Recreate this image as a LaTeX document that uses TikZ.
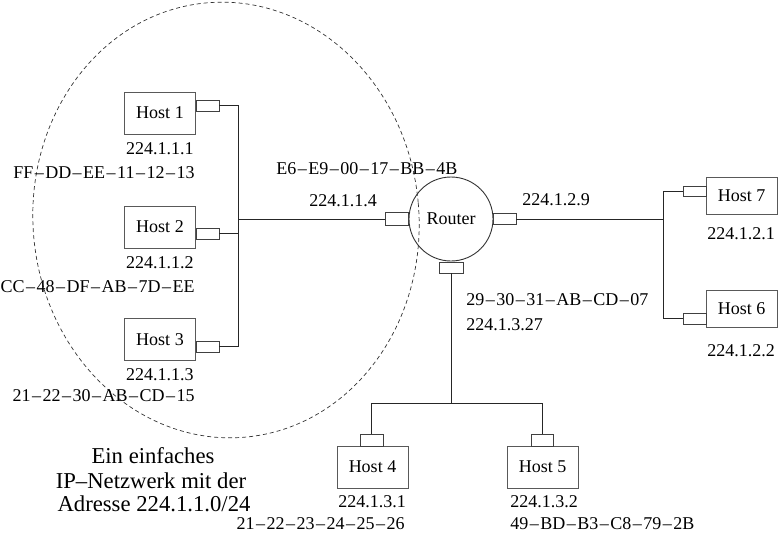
\documentclass[tikz,border=0pt]{standalone}
\usepackage{fontspec}
\setmainfont{Liberation Serif}
\usetikzlibrary{calc}
\newcommand\md{\kern0.083em–\kern0.083em}
\begin{document}
\begin{tikzpicture}[x=1pt,y=-1pt, font=\fontsize{18}{20}\selectfont, line width=0.9pt,
  host/.style={draw=black!65, rectangle, minimum width=71pt, minimum height=42pt, inner sep=0pt},
  iface/.style={draw=black!75, rectangle, minimum width=23pt, minimum height=11pt, inner sep=0pt},
  wire/.style={draw=black!85},
  lbl/.style={inner sep=0pt},
  captext/.style={inner sep=0pt, anchor=base, font=\fontsize{22.7}{24}\selectfont}]
\useasboundingbox (0,0) rectangle (781,533);

% subnet boundary
\coordinate (ec) at (226,220);
\draw[black!80, line width=0.7pt, dash pattern=on 4pt off 3pt, rotate around={5:(ec)}] (ec) ellipse [x radius=193, y radius=218];

% hosts
\node[host] (h1) at (160,113) {Host 1};
\node[host] (h2) at (160,227) {Host 2};
\node[host] (h3) at (160,339.5) {Host 3};
\node[host, minimum height=37pt] (h7) at (741.5,195.5) {Host 7};
\node[host, minimum height=37pt] (h6) at (741.5,308.5) {Host 6};
\node[host] (h4) at (372.5,467) {Host 4};
\node[host] (h5) at (542.5,467) {Host 5};

% interfaces
\node[iface] (h1i) at (207.5,105.5) {};
\node[iface] (h2i) at (207.5,233.5) {};
\node[iface] (h3i) at (207.5,346.5) {};
\node[iface, minimum height=10pt] (h7i) at (694.5,191.5) {};
\node[iface] (h6i) at (694.5,318.5) {};
\node[iface, minimum height=12pt] (h4i) at (371.5,440) {};
\node[iface, minimum width=22pt, minimum height=12pt] (h5i) at (542,440) {};

% router
\node[circle, draw=black!80, minimum size=84pt, inner sep=0pt] (r) at (451,219) {Router};
\node[iface, minimum height=13pt] (rl) at (396.5,219) {};
\node[iface] (rr) at (504.5,219) {};
\node[iface, minimum width=24pt] (rb) at (451,267.5) {};

% wires
\coordinate (b1) at (238,105.5);
\coordinate (b1e) at (238,346.5);
\draw[wire] (h1i.east) -- (b1) -- (b1e) -- (h3i.east);
\draw[wire] (h2i.east) -- (h2i.east -| b1);
\draw[wire] (rl.west) -- (rl.west -| b1);
\coordinate (b2) at (663,219);
\draw[wire] (rr.east) -- (b2);
\draw[wire] (h7i.west) -- (h7i.west -| b2) -- (h6i.west -| b2) -- (h6i.west);
\coordinate (b3) at (451,403);
\draw[wire] (rb.south) -- (b3);
\draw[wire] (h4i.north) -- (h4i.north |- b3) -- (h5i.north |- b3) -- (h5i.north);

% labels
\node[lbl, anchor=base east] (l1a) at (194,154) {224.1.1.1};
\node[lbl, anchor=base east] (l1b) at (195,178) {FF\md DD\md EE\md 11\md 12\md 13};
\node[lbl, anchor=base east] (l2a) at (194,268) {224.1.1.2};
\node[lbl, anchor=base east] (l2b) at (195,292) {CC\md 48\md DF\md AB\md 7D\md EE};
\node[lbl, anchor=base east] (l3a) at (194,380) {224.1.1.3};
\node[lbl, anchor=base east] (l3b) at (195,401) {21\md 22\md 30\md AB\md CD\md 15};
\node[lbl, anchor=base west] (rma) at (276,174) {E6\md E9\md 00\md 17\md BB\md 4B};
\node[lbl, anchor=base west] (ripa) at (309,206) {224.1.1.4};
\node[lbl, anchor=base west] (ripb) at (522,205) {224.1.2.9};
\node[lbl, anchor=base west] (rmc) at (466,305) {29\md 30\md 31\md AB\md CD\md 07};
\node[lbl, anchor=base west] (ripc) at (466,330) {224.1.3.27};
\node[lbl, anchor=base west] (l7) at (707,239) {224.1.2.1};
\node[lbl, anchor=base west] (l6) at (707,356) {224.1.2.2};
\node[lbl, anchor=base west] (l4a) at (338,507) {224.1.3.1};
\node[lbl, anchor=base east] (l4b) at (405,529) {21\md 22\md 23\md 24\md 25\md 26};
\node[lbl, anchor=base west] (l5a) at (510,507) {224.1.3.2};
\node[lbl, anchor=base west] (l5b) at (510,529) {49\md BD\md B3\md C8\md 79\md 2B};

% caption
\node[captext] (c1) at (153,463.5) {Ein einfaches};
\node[captext] (c2) at (151,488) {IP–Netzwerk mit der};
\node[captext] (c3) at (154,511.5) {Adresse 224.1.1.0/24};
\end{tikzpicture}
\end{document}
